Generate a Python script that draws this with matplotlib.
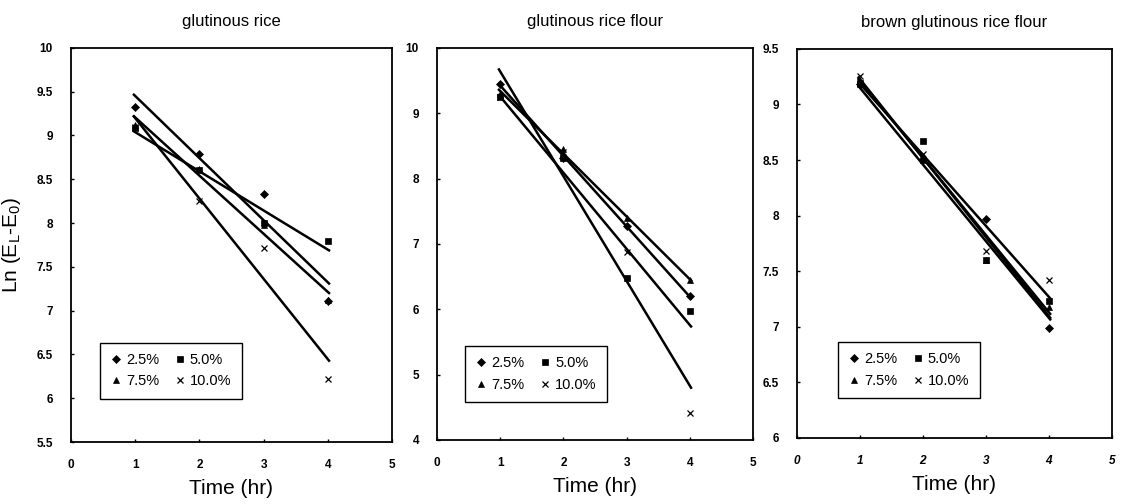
import numpy as np
from matplotlib import pyplot as plt

plt.rcParams['font.family'] = ['Liberation Sans', 'DejaVu Sans']
plt.rcParams['mathtext.fontset'] = 'custom'
plt.rcParams['mathtext.rm'] = 'Liberation Sans'
plt.rcParams['mathtext.it'] = 'Liberation Sans'

time_hr = [1, 2, 3, 4]
labels = ['2.5%', '5.0%', '7.5%', '10.0%']
markers = ['D', 's', '^', 'x']
msizes = [4, 4.5, 5, 5]

titles = ['glutinous rice', 'glutinous rice flour', 'brown glutinous rice flour']

# ln(EL-E0) values, one list per concentration
rice_25 = [9.32, 8.79, 8.33, 7.11]
rice_50 = [9.08, 8.60, 8.00, 7.79]
rice_75 = [9.12, 8.62, 7.98, 7.12]
rice_100 = [9.10, 8.25, 7.72, 6.22]

flour_25 = [9.44, 8.32, 7.27, 6.20]
flour_50 = [9.25, 8.32, 6.48, 5.98]
flour_75 = [9.30, 8.45, 7.40, 6.45]
flour_100 = [9.25, 8.40, 6.87, 4.42]

brown_25 = [9.18, 8.51, 7.97, 6.99]
brown_50 = [9.19, 8.67, 7.60, 7.23]
brown_75 = [9.18, 8.50, 7.60, 7.18]
brown_100 = [9.26, 8.55, 7.68, 7.42]

panels = [
    [rice_25, rice_50, rice_75, rice_100],
    [flour_25, flour_50, flour_75, flour_100],
    [brown_25, brown_50, brown_75, brown_100],
]
ylims = [(5.5, 10), (4, 10), (6, 9.5)]
yticks = [np.arange(5.5, 10.01, 0.5), np.arange(4, 10.01, 1), np.arange(6, 9.51, 0.5)]
ytlabels = [
    ['5.5', '6', '6.5', '7', '7.5', '8', '8.5', '9', '9.5', '10'],
    ['4', '5', '6', '7', '8', '9', '10'],
    ['6', '6.5', '7', '7.5', '8', '8.5', '9', '9.5'],
]

boxes = [
    [0.0633, 0.123, 0.286, 0.782],
    [0.3895, 0.127, 0.2816, 0.778],
    [0.7103, 0.131, 0.2807, 0.772],
]
leg_pos = [(0.09, 0.11), (0.089, 0.097), (0.13, 0.103)]

fig = plt.figure(figsize=(11.22, 5.04), dpi=100)

for k in range(3):
    ax = fig.add_axes(boxes[k])
    handles = []
    for s in range(4):
        y = panels[k][s]
        h, = ax.plot(time_hr, y, linestyle='none', marker=markers[s], ms=msizes[s],
                     color='black', mew=0.9 if markers[s] == 'x' else 0.5)
        handles.append(h)
        # linear trend line
        a, b = np.polyfit(time_hr, y, 1)
        xs = np.array([0.98, 4.02])
        ax.plot(xs, a * xs + b, color='black', lw=1.8)
    ax.set_xlim(0, 5)
    ax.set_ylim(*ylims[k])
    ax.set_xticks(range(6))
    ax.set_yticks(yticks[k])
    ax.set_yticklabels(ytlabels[k])
    ax.tick_params(direction='in', length=2.5, width=1, labelsize=8.5)
    ax.tick_params(axis='x', pad=12)
    ax.tick_params(axis='y', pad=13)
    for t in ax.get_xticklabels() + ax.get_yticklabels():
        t.set_fontweight('bold')
    if k == 2:
        for t in ax.get_xticklabels():
            t.set_fontstyle('italic')
    for sp in ax.spines.values():
        sp.set_linewidth(1.3)
    ax.set_title(titles[k], fontsize=12, pad=16)
    ax.set_xlabel('Time (hr)', fontsize=15, labelpad=6)
    if k == 0:
        ax.set_ylabel(r'Ln (E$_{\mathrm{L}}$-E$_{\mathrm{0}}$)', fontsize=15, labelpad=10)
    order = [0, 2, 1, 3]
    leg = ax.legend([handles[i] for i in order], [labels[i] for i in order], ncol=2,
                    loc='lower left', bbox_to_anchor=leg_pos[k], borderaxespad=0,
                    fancybox=False, edgecolor='black', fontsize=10.5,
                    handlelength=0.8, handletextpad=0.3, columnspacing=1.0,
                    borderpad=0.7, framealpha=1)
    leg.get_frame().set_linewidth(1.0)

fig.savefig('out.png', dpi=100)
